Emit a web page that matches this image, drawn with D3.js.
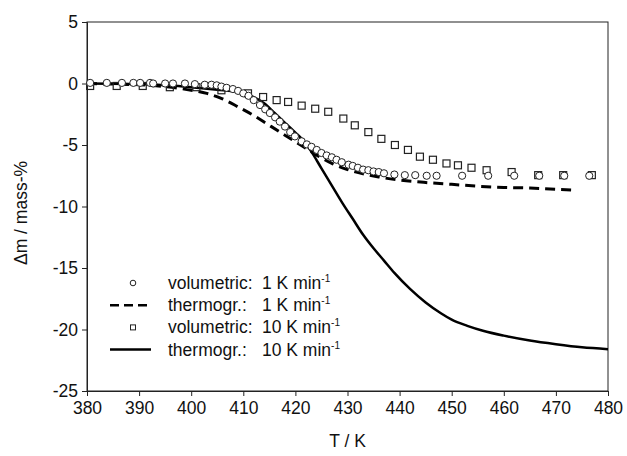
<!DOCTYPE html>
<html lang="en">
<head>
<meta charset="UTF-8">
<title>Mass loss</title>
<script src="https://d3js.org/d3.v7.min.js"></script>
<style>
  body { margin: 0; background: #fff; }
  svg text { font-family: "Liberation Sans", Arial, sans-serif; fill: #111; }
</style>
</head>
<body>
<div id="chart"></div>
<script>
// volumetric, 1 K/min (circles)
const volT1 = [380.6, 383.8, 386.7, 388.9, 390.2, 392.1, 392.7, 395, 396.5, 398.8, 400.7, 402.6, 403.9, 404.9, 405.8, 406.8, 408, 409, 410, 411, 412, 413.2, 414.2, 415.1, 416.1, 417, 418, 419, 419.9, 421.2, 422.2, 423.1, 424.1, 425, 426, 427, 427.9, 428.9, 430.2, 431, 432, 433, 434, 435, 436, 437, 439, 441, 443, 445.2, 447.1, 452, 457, 462, 466.8, 471.6, 476.4];
const volM1 = [0.05, 0.05, 0.05, 0.05, 0.05, 0.05, 0, 0, 0, 0, -0.05, -0.1, -0.1, -0.15, -0.25, -0.35, -0.45, -0.6, -0.8, -1.0, -1.35, -1.75, -2.1, -2.4, -2.75, -3.1, -3.5, -3.95, -4.3, -4.7, -4.95, -5.15, -5.4, -5.65, -5.85, -6.0, -6.2, -6.4, -6.6, -6.7, -6.85, -7.0, -7.05, -7.15, -7.2, -7.3, -7.4, -7.45, -7.45, -7.5, -7.5, -7.5, -7.5, -7.5, -7.5, -7.5, -7.5];

// thermogravimetric, 1 K/min (dashed)
const tgT1 = [380, 385, 390, 395, 400, 403, 406, 409, 412, 415, 418, 421, 424, 427, 430, 433, 436, 440, 445, 450, 455, 460, 465, 470, 473];
const tgM1 = [0, -0.05, -0.1, -0.25, -0.55, -0.8, -1.25, -1.9, -2.6, -3.4, -4.2, -5.0, -5.8, -6.5, -7.0, -7.35, -7.6, -7.85, -8.05, -8.2, -8.35, -8.45, -8.5, -8.6, -8.65];

// volumetric, 10 K/min (squares)
const volT10 = [380.6, 385.7, 390.7, 395.9, 401, 405.8, 410.9, 413.8, 416.4, 418.6, 421.2, 423.8, 426.3, 429.2, 431.4, 434, 436.5, 439.1, 441.6, 443.9, 446.4, 449, 451.2, 453.8, 456.7, 461.5, 466.6, 471.4, 476.9];
const volM10 = [-0.2, -0.2, -0.2, -0.3, -0.3, -0.55, -0.8, -1.1, -1.35, -1.5, -1.8, -2.05, -2.3, -2.85, -3.4, -3.95, -4.5, -5.0, -5.4, -5.95, -6.2, -6.5, -6.65, -6.85, -7.05, -7.2, -7.45, -7.45, -7.45];

// thermogravimetric, 10 K/min (solid)
const tgT10 = [380, 390, 395, 400, 405, 409, 412, 414, 416, 418, 420, 421, 423, 425, 427, 429, 431, 433, 435, 437, 439, 442, 445, 448, 450, 453, 456, 460, 465, 470, 475, 480];
const tgM10 = [0, -0.05, -0.15, -0.3, -0.5, -0.7, -1.1, -1.6, -2.4, -3.2, -4.0, -4.4, -5.5, -6.9, -8.3, -9.7, -11.0, -12.3, -13.4, -14.4, -15.4, -16.7, -17.8, -18.7, -19.2, -19.7, -20.1, -20.5, -20.9, -21.2, -21.45, -21.6];

const xTicks = [380, 390, 400, 410, 420, 430, 440, 450, 460, 470, 480];
const yTicks = [5, 0, -5, -10, -15, -20, -25];

const width = 627, height = 456;
const margin = { top: 22, right: 19, bottom: 65, left: 87 };

const svg = d3.select('#chart').append('svg')
  .attr('width', width)
  .attr('height', height);

const x = d3.scaleLinear().domain([380, 480]).range([margin.left, width - margin.right]);
const y = d3.scaleLinear().domain([-25, 5]).range([height - margin.bottom, margin.top]);

// frame
svg.append('rect')
  .attr('x', x(380)).attr('y', y(5))
  .attr('width', x(480) - x(380)).attr('height', y(-25) - y(5))
  .attr('fill', 'none').attr('stroke', '#222').attr('stroke-width', 1);

// plain hyphen for negatives, like the original
const fmt = d => String(d);

const xAxis = svg.append('g')
  .attr('transform', `translate(0,${y(-25)})`)
  .call(d3.axisBottom(x).tickValues(xTicks).tickSize(5).tickPadding(6).tickFormat(fmt));
const yAxis = svg.append('g')
  .attr('transform', `translate(${x(380)},0)`)
  .call(d3.axisLeft(y).tickValues(yTicks).tickSize(5).tickPadding(4).tickFormat(fmt));

[xAxis, yAxis].forEach(a => {
  a.select('.domain').attr('stroke', '#222');
  a.selectAll('.tick line').attr('stroke', '#222');
  a.selectAll('.tick text').style('font-size', '17.5px').attr('fill', '#111');
});

svg.append('text')
  .attr('x', (x(380) + x(480)) / 2).attr('y', 447)
  .attr('text-anchor', 'middle').style('font-size', '17.5px')
  .text('T / K');

svg.append('text')
  .attr('transform', `translate(27,213) rotate(-90)`)
  .attr('text-anchor', 'middle').style('font-size', '17.5px')
  .text('\u0394m / mass-%');

const line = d3.line().x(d => x(d[0])).y(d => y(d[1])).curve(d3.curveMonotoneX);

// solid TG 10 K/min
svg.append('path')
  .datum(d3.zip(tgT10, tgM10))
  .attr('d', line)
  .attr('fill', 'none').attr('stroke', '#000').attr('stroke-width', 2.5);

// dashed TG 1 K/min
svg.append('path')
  .datum(d3.zip(tgT1, tgM1))
  .attr('d', line)
  .attr('fill', 'none').attr('stroke', '#000').attr('stroke-width', 3)
  .attr('stroke-dasharray', '10,6');

// squares
svg.append('g').selectAll('rect')
  .data(d3.zip(volT10, volM10))
  .join('rect')
  .attr('x', d => x(d[0]) - 3.5).attr('y', d => y(d[1]) - 3.5)
  .attr('width', 7).attr('height', 7)
  .attr('fill', 'none').attr('stroke', '#222').attr('stroke-width', 1.2);

// circles
svg.append('g').selectAll('circle')
  .data(d3.zip(volT1, volM1))
  .join('circle')
  .attr('cx', d => x(d[0])).attr('cy', d => y(d[1]))
  .attr('r', 3.6)
  .attr('fill', '#fff').attr('stroke', '#222').attr('stroke-width', 1);

// legend
const legendItems = [
  { kind: 'circle', name: 'volumetric:', rate: '1' },
  { kind: 'dash', name: 'thermogr.:', rate: '1' },
  { kind: 'square', name: 'volumetric:', rate: '10' },
  { kind: 'solid', name: 'thermogr.:', rate: '10' }
];

const legend = svg.append('g');
legendItems.forEach((it, i) => {
  const ly = 283 + i * 22.2;
  const g = legend.append('g');
  if (it.kind === 'circle') {
    g.append('circle').attr('cx', 133).attr('cy', ly).attr('r', 2.8)
      .attr('fill', 'none').attr('stroke', '#222');
  } else if (it.kind === 'square') {
    g.append('rect').attr('x', 130.5).attr('y', ly - 2.5).attr('width', 5).attr('height', 5)
      .attr('fill', 'none').attr('stroke', '#222');
  } else {
    g.append('line').attr('x1', 110).attr('x2', 151).attr('y1', ly).attr('y2', ly)
      .attr('stroke', '#000').attr('stroke-width', 2.5)
      .attr('stroke-dasharray', it.kind === 'dash' ? '9,5' : null);
  }
  g.append('text').attr('x', 168).attr('y', ly + 6).style('font-size', '17.5px').text(it.name);
  const t = g.append('text').attr('x', 262).attr('y', ly + 6).style('font-size', '17.5px');
  t.append('tspan').text(it.rate + ' K min');
  t.append('tspan').attr('dy', -7).style('font-size', '10px').text('-1');
});
</script>
</body>
</html>
